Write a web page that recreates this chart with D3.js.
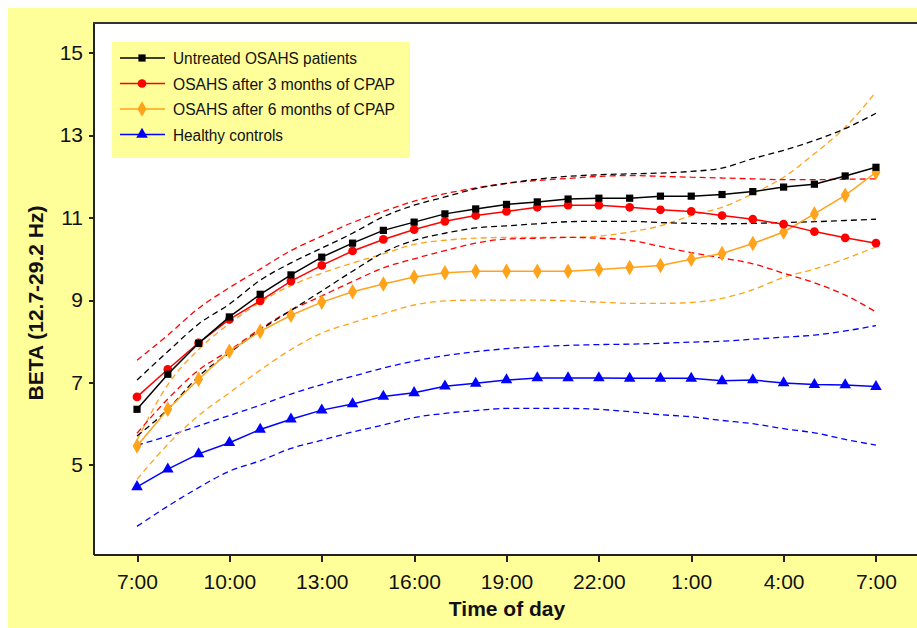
<!DOCTYPE html>
<meta charset="utf-8">
<style>
body {
  margin: 0;
  background-color: #ffffff;
}
.axis text {
  font: 21px "Liberation Sans", Arial, sans-serif;
  fill: #111;
}
.axis path,
.axis line {
  stroke: #222;
  stroke-width: 2px;
  shape-rendering: crispEdges;
}
.axis-title {
  font: bold 21px "Liberation Sans", Arial, sans-serif;
  fill: #111;
}
.legend text {
  font: 16px "Liberation Sans", Arial, sans-serif;
  fill: #111;
}
.mean-line {
  fill: none;
  stroke-width: 1.5px;
}
.ci-line {
  fill: none;
  stroke-width: 1.3px;
  stroke-dasharray: 6,4;
}
</style>
<body>
<svg width="917" height="628"></svg>
</body>

<script src="https://d3js.org/d3.v7.min.js"></script>

<script>

// hours after 7:00, one point each hour
var hours = [0,1,2,3,4,5,6,7,8,9,10,11,12,13,14,15,16,17,18,19,20,21,22,23,24];
var tickHours = [0,3,6,9,12,15,18,21,24];
var tickLabels = ["7:00","10:00","13:00","16:00","19:00","22:00","1:00","4:00","7:00"];
var yTicks = [5,7,9,11,13,15];

var untreated      = [6.35,7.20,7.95,8.59,9.14,9.61,10.04,10.38,10.69,10.89,11.09,11.21,11.32,11.38,11.45,11.47,11.47,11.52,11.52,11.56,11.63,11.74,11.81,12.01,12.22];
var untreatedUpper = [7.06,7.75,8.42,8.90,9.48,9.90,10.26,10.62,11.02,11.30,11.50,11.70,11.83,11.93,12.00,12.04,12.06,12.08,12.12,12.20,12.43,12.63,12.87,13.16,13.53];
var untreatedLower = [5.70,6.35,7.15,7.72,8.27,8.75,9.22,9.70,10.15,10.45,10.62,10.75,10.80,10.85,10.90,10.91,10.91,10.88,10.86,10.85,10.86,10.88,10.90,10.93,10.96];

var cpap3      = [6.65,7.32,7.96,8.53,8.98,9.46,9.84,10.19,10.47,10.71,10.91,11.05,11.15,11.25,11.30,11.30,11.25,11.19,11.15,11.05,10.96,10.84,10.66,10.51,10.38];
var cpap3Upper = [7.54,8.15,8.80,9.30,9.75,10.20,10.55,10.88,11.15,11.40,11.58,11.72,11.83,11.90,11.95,12.00,12.02,12.00,11.98,11.96,11.94,11.92,11.92,11.93,11.94];
var cpap3Lower = [5.77,6.60,7.30,7.78,8.30,8.75,9.10,9.45,9.78,10.00,10.20,10.38,10.48,10.50,10.52,10.50,10.45,10.30,10.15,10.02,9.88,9.65,9.42,9.12,8.71];

var cpap6      = [5.46,6.35,7.08,7.76,8.24,8.63,8.95,9.20,9.39,9.56,9.66,9.70,9.70,9.70,9.70,9.74,9.79,9.84,9.99,10.13,10.37,10.65,11.09,11.54,12.10];
var cpap6Upper = [5.60,6.95,7.80,8.43,8.95,9.35,9.65,9.90,10.12,10.35,10.45,10.50,10.52,10.52,10.52,10.55,10.65,10.80,11.05,11.25,11.58,11.98,12.55,13.19,14.05];
var cpap6Lower = [4.65,5.50,6.20,6.75,7.30,7.80,8.20,8.45,8.67,8.88,8.98,9.00,9.00,9.00,8.98,8.95,8.92,8.92,8.94,9.04,9.25,9.55,9.75,10.00,10.29];

var healthy      = [4.47,4.90,5.27,5.54,5.86,6.11,6.33,6.48,6.66,6.75,6.91,6.98,7.06,7.11,7.11,7.11,7.10,7.10,7.10,7.04,7.06,6.99,6.95,6.94,6.90];
var healthyUpper = [5.48,5.70,5.95,6.20,6.45,6.72,6.95,7.15,7.35,7.52,7.65,7.75,7.82,7.87,7.90,7.92,7.93,7.95,7.98,8.00,8.05,8.10,8.15,8.25,8.38];
var healthyLower = [3.51,4.00,4.45,4.85,5.10,5.40,5.60,5.80,5.97,6.15,6.25,6.32,6.37,6.37,6.37,6.35,6.29,6.22,6.17,6.08,6.00,5.88,5.78,5.62,5.48];

var seriesNames = ["Untreated OSAHS patients", "OSAHS after 3 months of CPAP", "OSAHS after 6 months of CPAP", "Healthy controls"];
var seriesColors = ["#000000", "#ff0000", "#ffa31a", "#0000ff"];

var groups = [
  {mean: untreated, upper: untreatedUpper, lower: untreatedLower, symbol: d3.symbolSquare, size: 52},
  {mean: cpap3, upper: cpap3Upper, lower: cpap3Lower, symbol: d3.symbolCircle, size: 60},
  {mean: cpap6, upper: cpap6Upper, lower: cpap6Lower, symbol: d3.symbolDiamond, size: 70},
  {mean: healthy, upper: healthyUpper, lower: healthyLower, symbol: d3.symbolTriangle, size: 58}
];

var plot = {left: 93, right: 920, top: 23, bottom: 554};

var x = d3.scaleLinear().domain([-1.43, 25.43]).range([plot.left, plot.right]);
var y = d3.scaleLinear().domain([2.84, 15.72]).range([plot.bottom, plot.top]);

var svg = d3.select("svg");

// yellow page behind the chart
svg.append("rect")
  .attr("x", 8).attr("y", 8)
  .attr("width", 917).attr("height", 628)
  .attr("fill", "#ffff99");

svg.append("rect")
  .attr("x", plot.left).attr("y", plot.top)
  .attr("width", plot.right - plot.left)
  .attr("height", plot.bottom - plot.top)
  .attr("fill", "#ffffff");

svg.append("line")
  .attr("x1", plot.left).attr("x2", plot.right)
  .attr("y1", plot.top).attr("y2", plot.top)
  .attr("stroke", "#333").attr("stroke-width", 2);

var line = d3.line()
  .x(function(d, i) { return x(hours[i]); })
  .y(function(d) { return y(d); })
  .curve(d3.curveMonotoneX);

var straight = d3.line()
  .x(function(d, i) { return x(hours[i]); })
  .y(function(d) { return y(d); });

// dashed bands first, then the means on top
[3, 2, 1, 0].forEach(function(k) {
  var g = groups[k];
  [g.upper, g.lower].forEach(function(arr) {
    svg.append("path")
      .datum(arr)
      .attr("class", "ci-line")
      .attr("stroke", seriesColors[k])
      .attr("d", line);
  });
});

[3, 2, 1, 0].forEach(function(k) {
  var g = groups[k];
  svg.append("path")
    .datum(g.mean)
    .attr("class", "mean-line")
    .attr("stroke", seriesColors[k])
    .attr("d", straight);

  svg.selectAll(".mark-" + k).data(g.mean)
    .enter()
    .append("path")
    .attr("class", "mark-" + k)
    .attr("d", d3.symbol().type(g.symbol).size(g.size))
    .attr("transform", function(d, i) { return "translate(" + x(hours[i]) + "," + y(d) + ")"; })
    .attr("fill", seriesColors[k]);
});

var xAxis = d3.axisBottom(x)
  .tickValues(tickHours)
  .tickFormat(function(d, i) { return tickLabels[i]; })
  .tickSize(8)
  .tickSizeOuter(0);

var yAxis = d3.axisLeft(y)
  .tickValues(yTicks)
  .tickSize(4)
  .tickSizeOuter(0)
  .tickPadding(6);

var gX = svg.append("g")
  .attr("class", "axis")
  .attr("transform", "translate(0," + plot.bottom + ")")
  .call(xAxis);
gX.selectAll("text").attr("y", 35).attr("dy", null);

svg.append("g")
  .attr("class", "axis")
  .attr("transform", "translate(" + plot.left + ",0)")
  .call(yAxis);

svg.append("text")
  .attr("class", "axis-title")
  .attr("text-anchor", "middle")
  .attr("x", 507).attr("y", 616)
  .text("Time of day");

svg.append("text")
  .attr("class", "axis-title")
  .attr("text-anchor", "middle")
  .attr("transform", "translate(43,303) rotate(-90)")
  .text("BETA (12.7-29.2 Hz)");

// legend
var legend = svg.append("g").attr("class", "legend");
legend.append("rect")
  .attr("x", 112).attr("y", 42)
  .attr("width", 298).attr("height", 116)
  .attr("fill", "#ffff99");

var legendWidths = [184, 222, 222, 110];
seriesNames.forEach(function(name, k) {
  var ly = 58 + k * 25.5;
  legend.append("line")
    .attr("x1", 120).attr("x2", 165)
    .attr("y1", ly).attr("y2", ly)
    .attr("stroke", seriesColors[k]).attr("stroke-width", 1.5);
  legend.append("path")
    .attr("d", d3.symbol().type(groups[k].symbol).size(groups[k].size))
    .attr("transform", "translate(142," + ly + ")")
    .attr("fill", seriesColors[k]);
  legend.append("text")
    .attr("x", 173).attr("y", ly + 6)
    .attr("textLength", legendWidths[k])
    .attr("lengthAdjust", "spacingAndGlyphs")
    .text(name);
});

</script>
